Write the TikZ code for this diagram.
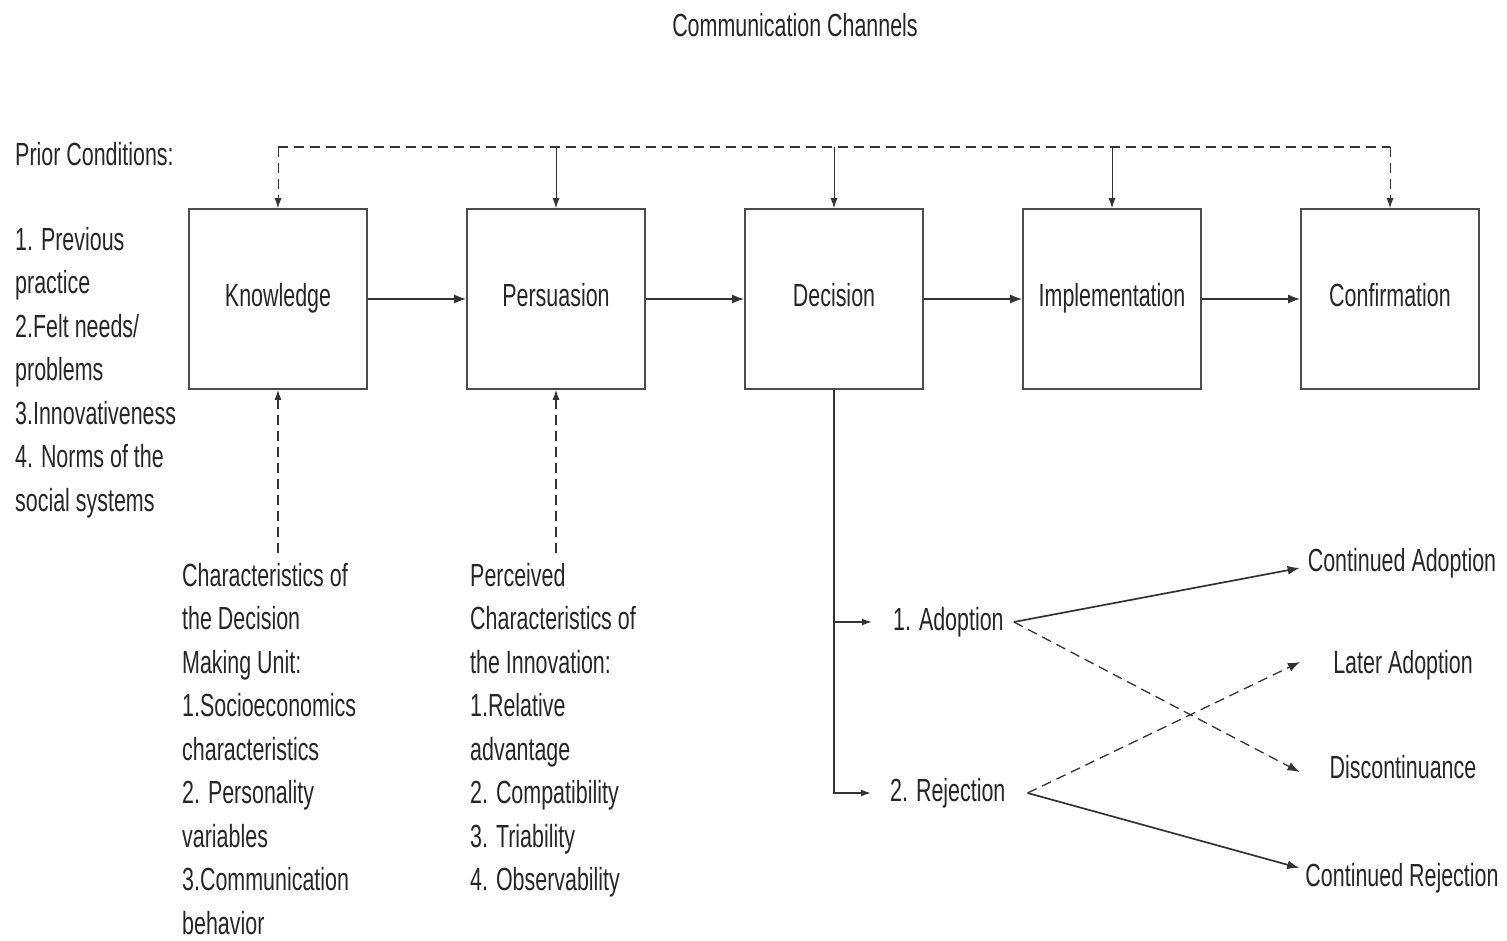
\documentclass[tikz,border=0pt]{standalone}
\usepackage{fontspec}
\setmainfont{Liberation Sans}[FakeStretch=0.67]
\usetikzlibrary{arrows.meta}

\begin{document}
\begin{tikzpicture}[x=1pt,y=-1pt,
    font=\fontsize{32}{43.5}\selectfont, text=black!85,
    stage/.style={draw=black!70,line width=1.7pt,minimum width=178pt,minimum height=180pt,inner sep=0pt,text height=23pt,text depth=7pt},
    txt/.style={inner sep=0pt,align=left,anchor=north west},
    res/.style={inner sep=0pt},
    flow/.style={-{Latex[length=12pt,width=9pt]},line width=1.7pt,black!80},
    thinflow/.style={-{Latex[length=10pt,width=7pt]},line width=1pt,black!80},
    dashline/.style={dash pattern=on 10pt off 6pt}]
  \useasboundingbox (0,0) rectangle (1507,941);
  \node (cc) at (795,25) {Communication Channels};
  % the five stages
  \foreach \name/\lbl [count=\i] in {kn/Knowledge,ps/Persuasion,dc/Decision,im/Implementation,cf/Confirmation} {
    \node[stage] (\name) at ({278*\i},299) {\lbl};
  }
  \foreach \a/\b in {kn/ps,ps/dc,dc/im,im/cf} {
    \draw[flow] (\a) -- (\b);
  }
  \coordinate (top) at (0,147);
  \draw[line width=1.3pt,black!80,dashline] (kn.north |- top) -- (cf.north |- top);
  \foreach \name/\sty in {kn/dashline,ps/solid,dc/solid,im/solid,cf/dashline} {
    \draw[thinflow,\sty] (\name.north |- top) -- (\name.north);
  }
  % side texts
  \node[txt] (pc) at (15,142) {Prior Conditions:};
  \node[txt] (pl) at (15,227) {1. Previous\\practice\\2.Felt needs/\\problems\\3.Innovativeness\\4. Norms of the\\social systems};
  \node[txt] (ch) at (182,563) {Characteristics of\\the Decision\\Making Unit:\\1.Socioeconomics\\characteristics\\2. Personality\\variables\\3.Communication\\behavior};
  \node[txt] (pr) at (470,563) {Perceived\\Characteristics of\\the Innovation:\\1.Relative\\advantage\\2. Compatibility\\3. Triability\\4. Observability};
  \draw[thinflow,dashline,line width=1.2pt] ([yshift=10pt]kn.south |- ch.north) -- (kn.south);
  \draw[thinflow,dashline,line width=1.2pt] ([yshift=10pt]ps.south |- pr.north) -- (ps.south);
  % decision outcomes
  \node[res,anchor=west] (ad) at (893,622) {1. Adoption};
  \node[res,anchor=west] (rj) at (890,793) {2. Rejection};
  \draw[thinflow,line width=1.6pt] (dc.south) |- ([xshift=-19pt]rj.west);
  \draw[thinflow,line width=1.6pt] (dc.south |- ad.west) -- ([xshift=-21pt]ad.west);
  \node[res] (ca) at (1402,563) {Continued Adoption};
  \node[res] (la) at (1403,665) {Later Adoption};
  \node[res] (dn) at (1403,767) {Discontinuance};
  \node[res] (cr) at (1402,878) {Continued Rejection};
  \draw[flow] ([xshift=10pt]ad.east) -- ([xshift=-8pt,yshift=-5pt]ca.west);
  \draw[flow,dashline,line width=1.3pt] ([xshift=10pt]ad.east) -- ([xshift=-30pt,yshift=-5pt]dn.west);
  \draw[flow,dashline,line width=1.3pt] ([xshift=22pt]rj.east) -- ([xshift=-33pt,yshift=3pt]la.west);
  \draw[flow] ([xshift=22pt]rj.east) -- ([xshift=-6pt,yshift=10pt]cr.west);
\end{tikzpicture}
\end{document}
